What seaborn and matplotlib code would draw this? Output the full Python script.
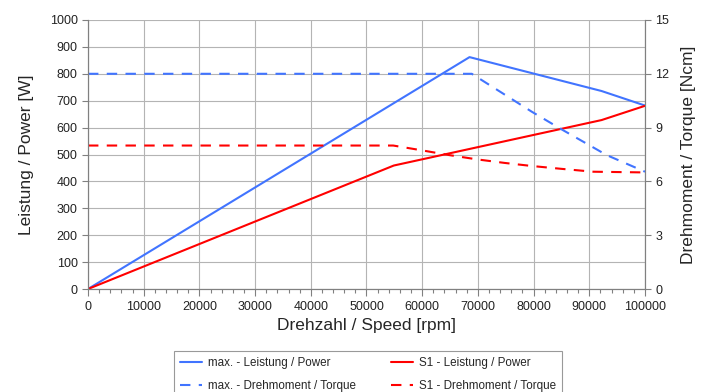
import matplotlib
matplotlib.use("Agg")
import matplotlib.pyplot as plt
import seaborn as sns
import pandas as pd
from matplotlib.ticker import MultipleLocator

# Data
max_power_speed = [0, 68500, 92200, 100000]
max_power_w = [0, 862, 736, 682]
s1_power_speed = [0, 54900, 92200, 100000]
s1_power_w = [0, 459, 628, 681]
max_torque_speed = [0, 68900, 71600, 79650, 84700, 93100, 100000]
max_torque_ncm = [12, 12, 11.47, 9.89, 8.96, 7.47, 6.54]
s1_torque_speed = [0, 54800, 59600, 64800, 69800, 74800, 79650, 85000, 90700, 100000]
s1_torque_ncm = [8.0, 8.0, 7.75, 7.47, 7.23, 7.03, 6.86, 6.7, 6.54, 6.5]

labels = ["max. - Leistung / Power", "S1 - Leistung / Power",
          "max. - Drehmoment / Torque", "S1 - Drehmoment / Torque"]

sns.set_theme(style="white")
plt.rcParams['font.family'] = ['Liberation Sans', 'DejaVu Sans']

BLUE = "#4174ff"
RED = "#ff0000"
GRID = "#b4b4b4"
AX = "#808080"

fig = plt.figure(figsize=(7.10, 3.92), dpi=100)
ax = fig.add_axes([88/710, 1-289/392, (645-88)/710, (289-20)/392])
ax2 = ax.twinx()

sns.lineplot(x=max_power_speed, y=max_power_w, ax=ax, color=BLUE, lw=1.5, label=labels[0], legend=False)
sns.lineplot(x=s1_power_speed, y=s1_power_w, ax=ax, color=RED, lw=1.5, label=labels[1], legend=False)
sns.lineplot(x=max_torque_speed, y=max_torque_ncm, ax=ax2, color=BLUE, lw=1.5, ls=(0, (5, 4)), label=labels[2], legend=False)
sns.lineplot(x=s1_torque_speed, y=s1_torque_ncm, ax=ax2, color=RED, lw=1.5, ls=(0, (5, 4)), label=labels[3], legend=False)

ax.set_xlim(0, 100000)
ax.set_ylim(0, 1000)
ax2.set_ylim(0, 15)
ax.xaxis.set_major_locator(MultipleLocator(10000))
ax.xaxis.set_minor_locator(MultipleLocator(2000))
ax.yaxis.set_major_locator(MultipleLocator(100))
ax2.yaxis.set_major_locator(MultipleLocator(3))

ax.grid(True, which="major", color=GRID, lw=0.8)
ax.set_axisbelow(True)

for a in (ax, ax2):
    for s in a.spines.values():
        s.set_visible(False)
    for s in ("left", "bottom", "right"):
        a.spines[s].set_visible(True)
        a.spines[s].set_color(AX)
        a.spines[s].set_linewidth(0.8)
    a.tick_params(colors="#222222", labelsize=9)

ax.tick_params(axis="x", which="major", direction="out", length=5, width=0.8, color=AX, bottom=True)
ax.tick_params(axis="x", which="minor", direction="out", length=3, width=0.8, color=AX, bottom=True)
ax.tick_params(axis="y", direction="out", length=4, width=0.8, color=AX, left=True)
ax2.tick_params(axis="y", direction="out", length=4, width=0.8, color=AX, right=True)

ax.set_xlabel("Drehzahl / Speed [rpm]", fontsize=12.5, labelpad=4)
ax.set_ylabel("Leistung / Power [W]", fontsize=12.5, labelpad=11)
ax2.set_ylabel("Drehmoment / Torque [Ncm]", fontsize=12.5, labelpad=8.5)

h1, l1 = ax.get_legend_handles_labels()
h2, l2 = ax2.get_legend_handles_labels()
handles = [h1[0], h2[0], h1[1], h2[1]]
labs = [l1[0], l2[0], l1[1], l2[1]]
leg = fig.legend(handles, labs, ncol=2, loc="upper center",
                 bbox_to_anchor=(368/710, 1-351/392), bbox_transform=fig.transFigure,
                 borderaxespad=0,
                 fontsize=8.4, frameon=True, fancybox=False, edgecolor="#808080",
                 handlelength=1.9, handletextpad=0.5, columnspacing=3.0,
                 borderpad=0.55, labelspacing=0.92)
leg.get_frame().set_linewidth(0.8)

fig.savefig("out.png", dpi=100)
